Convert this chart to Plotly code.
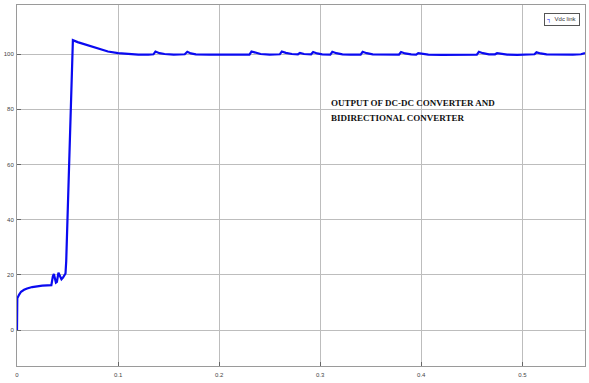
import plotly.graph_objects as go

# Time (s) and Vdc link (V)
t_startup = [0.0, 0.0003, 0.002, 0.004, 0.007, 0.010, 0.015, 0.020, 0.025, 0.030, 0.034]
v_startup = [0.0, 11.5, 12.8, 13.9, 14.6, 15.1, 15.6, 15.9, 16.1, 16.2, 16.3]

t_osc = [0.0355, 0.0365, 0.0385, 0.0395, 0.041, 0.0425, 0.044, 0.0455, 0.047, 0.048]
v_osc = [19.5, 20.3, 17.2, 17.5, 20.8, 19.5, 18.4, 19.0, 20.0, 20.5]

t_rise = [0.0487, 0.0553, 0.060, 0.070, 0.080, 0.090, 0.100, 0.110, 0.120, 0.130]
v_rise = [25.0, 105.0, 104.3, 103.2, 102.0, 100.9, 100.3, 100.0, 99.8, 99.8]

t_steady = [0.135, 0.137, 0.141, 0.146, 0.155, 0.166, 0.1685, 0.172, 0.177, 0.190,
            0.210, 0.230, 0.232, 0.236, 0.241, 0.250, 0.260, 0.262, 0.266, 0.272,
            0.278, 0.280, 0.284, 0.291, 0.293, 0.297, 0.302, 0.310, 0.312, 0.316,
            0.322, 0.330, 0.340, 0.342, 0.346, 0.352, 0.365, 0.378, 0.380, 0.384,
            0.390, 0.395, 0.397, 0.401, 0.407, 0.420, 0.440, 0.455, 0.457, 0.461,
            0.467, 0.473, 0.475, 0.479, 0.485, 0.495, 0.505, 0.512, 0.514, 0.518,
            0.524, 0.535, 0.550, 0.558, 0.562]
v_steady = [99.9, 100.9, 100.3, 100.0, 99.8, 99.9, 100.8, 100.2, 99.9, 99.8,
            99.8, 99.8, 100.9, 100.4, 100.0, 99.8, 99.9, 100.9, 100.4, 100.0,
            99.9, 100.4, 100.0, 99.9, 100.7, 100.2, 99.9, 99.8, 100.8, 100.3,
            99.9, 99.8, 99.8, 100.8, 100.3, 99.9, 99.8, 99.8, 100.7, 100.2,
            99.9, 99.8, 100.3, 100.1, 99.8, 99.7, 99.7, 99.8, 100.8, 100.3,
            99.9, 99.9, 100.3, 100.0, 99.8, 99.7, 99.8, 99.9, 100.6, 100.2,
            99.9, 99.8, 99.8, 99.9, 100.3]

t = t_startup + t_osc + t_rise + t_steady
v = v_startup + v_osc + v_rise + v_steady

x_ticks = [0, 0.1, 0.2, 0.3, 0.4, 0.5]
x_tick_labels = ["0", "0.1", "0.2", "0.3", "0.4", "0.5"]
y_ticks = [0, 20, 40, 60, 80, 100]
y_tick_labels = ["0", "20", "40", "60", "80", "100"]

fig = go.Figure()
fig.add_trace(go.Scatter(
    x=t, y=v, mode="lines", name="Vdc link",
    line=dict(color="#0a0af0", width=2.2),
))

fig.update_layout(
    width=589, height=383,
    margin=dict(l=17, r=4, t=5, b=17, autoexpand=False),
    paper_bgcolor="white", plot_bgcolor="white",
    font=dict(family="Liberation Sans", size=6, color="#444"),
    showlegend=False,
    xaxis=dict(range=[0, 0.562], tickvals=x_ticks, ticktext=x_tick_labels,
               showgrid=True, gridcolor="#bdbdbd", gridwidth=1, automargin=False,
               zeroline=False, showline=True, linecolor="#9a9a9a", linewidth=1,
               mirror=True, ticks="inside", ticklen=4, tickcolor="#666",
               ticklabelstandoff=3),
    yaxis=dict(range=[-13, 117.75], tickvals=y_ticks, ticktext=y_tick_labels,
               showgrid=True, gridcolor="#bdbdbd", gridwidth=1, automargin=False,
               zeroline=False, showline=True, linecolor="#9a9a9a", linewidth=1,
               mirror=True, ticks="inside", ticklen=4, tickcolor="#666",
               ticklabelstandoff=1),
)

# Scope legend box
fig.add_annotation(
    x=0.991, y=0.978, xref="paper", yref="paper", xanchor="right", yanchor="top",
    text="<span style='color:#0a0af0'><b>\u2510</b></span>  Vdc link",
    showarrow=False, bordercolor="#555", borderwidth=1, borderpad=2,
    bgcolor="white", font=dict(family="Liberation Sans", size=6, color="#333"),
)

title_lines = ["OUTPUT OF DC-DC CONVERTER AND", "BIDIRECTIONAL CONVERTER"]
title_y = [82.25, 76.8]
for line, yv in zip(title_lines, title_y):
    fig.add_annotation(
        x=0.309, y=yv, xref="x", yref="y", xanchor="left", yanchor="middle",
        text="<b>" + line + "</b>", showarrow=False, align="left",
        font=dict(family="Liberation Serif", size=9, color="#111"),
    )

fig.write_html("out.html", config={"displayModeBar": False},
               post_script="document.body.style.margin='0';")
